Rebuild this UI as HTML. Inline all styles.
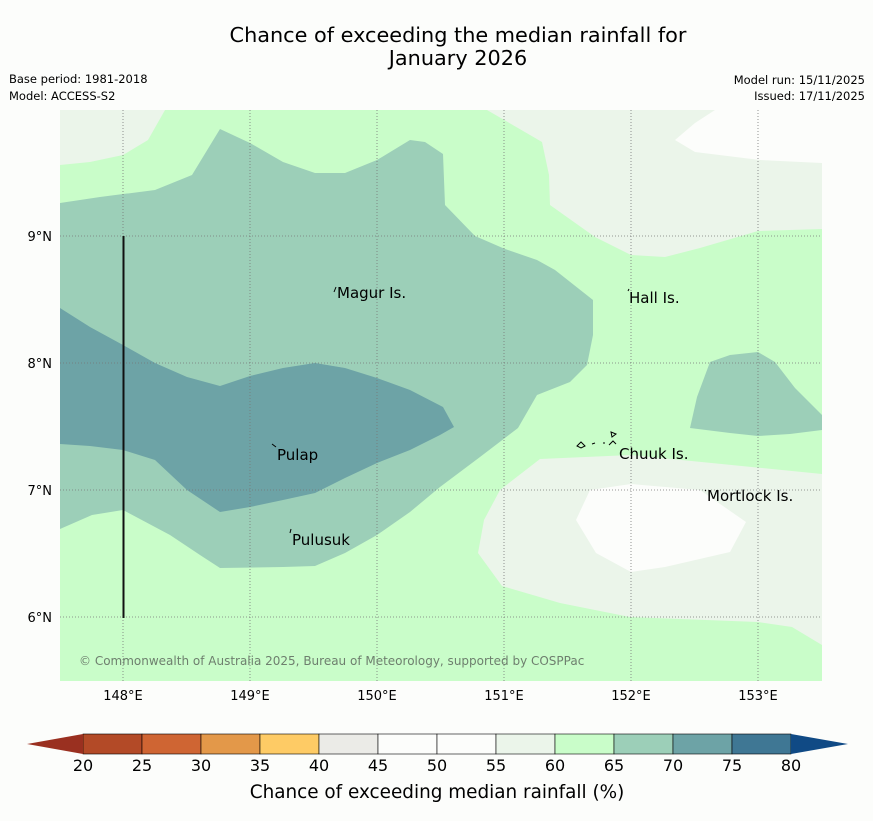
<!DOCTYPE html>
<html><head><meta charset="utf-8"><style>
body{margin:0;background:#fcfdfb;}
svg text{font-family:"DejaVu Sans","Liberation Sans",sans-serif;}
</style></head><body>
<svg width="873" height="816" viewBox="0 0 873 816" xmlns="http://www.w3.org/2000/svg">
<rect width="873" height="816" fill="#fcfdfb"/>
<text x="458" y="42" font-size="20.8" text-anchor="middle" fill="#000">Chance of exceeding the median rainfall for</text>
<text x="458" y="65" font-size="20.8" text-anchor="middle" fill="#000">January 2026</text>
<text x="9" y="83" font-size="11.5">Base period: 1981-2018</text>
<text x="9" y="100" font-size="11.5">Model: ACCESS-S2</text>
<text x="865" y="84" font-size="11.5" text-anchor="end">Model run: 15/11/2025</text>
<text x="865" y="100" font-size="11.5" text-anchor="end">Issued: 17/11/2025</text>
<defs><clipPath id="mc"><rect x="60" y="110" width="762" height="571"/></clipPath></defs>
<g clip-path="url(#mc)">
<rect x="60" y="110" width="762" height="571" fill="#c9fdc9"/>
<polygon fill="#ebf5ea" points="60,110 165,110 148,140 123,155 90,162 60,165"/>
<polygon fill="#ebf5ea" points="487,110 822,110 822,229 758,231 700,248 665,257 631,255 595,237 550,205 549,175 542,142"/>
<polygon fill="#fcfdfb" points="715,110 822,110 822,163 760,160 695,152 675,140 695,123"/>
<polygon fill="#ebf5ea" points="822,474 822,645 792,627 758,622 630,617 560,603 502,586 478,553 484,520 500,490 540,459 631,455"/>
<polygon fill="#fcfdfb" points="590,490 631,484 700,490 746,522 730,552 665,567 631,572 596,553 576,520"/>
<polygon fill="#9ccfb8" points="60,203 100,197 155,190 192,175 220,129 250,143 283,162 315,173 345,173 377,160 410,140 425,142 443,154 445,205 475,236 505,249 537,260 555,270 593,300 593,335 587,365 570,382 537,395 518,428 480,457 440,487 410,512 377,535 345,553 315,566 283,567 220,568 200,555 170,535 123,510 92,515 60,529"/>
<polygon fill="#6da3a6" points="60,308 90,327 123,345 155,363 187,377 220,386 250,376 283,368 315,363 345,368 377,378 410,390 443,407 454,427 440,435 410,450 377,463 345,478 315,493 283,500 250,507 220,512 187,490 155,460 123,450 90,446 60,444"/>
<polygon fill="#9ccfb8" points="710,362 730,355 758,352 775,362 795,388 822,415 822,430 790,434 758,436 730,433 690,428 697,397"/>
<g stroke="#777" stroke-width="0.8" stroke-dasharray="1,2">
<line x1="123" y1="110" x2="123" y2="681"/><line x1="250" y1="110" x2="250" y2="681"/><line x1="377" y1="110" x2="377" y2="681"/><line x1="504" y1="110" x2="504" y2="681"/><line x1="631" y1="110" x2="631" y2="681"/><line x1="758" y1="110" x2="758" y2="681"/>
<line x1="60" y1="236" x2="822" y2="236"/><line x1="60" y1="363" x2="822" y2="363"/><line x1="60" y1="490" x2="822" y2="490"/><line x1="60" y1="617" x2="822" y2="617"/>
</g>
<line x1="123.5" y1="236" x2="123.5" y2="618" stroke="#111" stroke-width="2"/>
<g font-size="15" fill="#000">
<text x="337" y="298">Magur Is.</text>
<text x="629" y="303">Hall Is.</text>
<text x="619" y="459">Chuuk Is.</text>
<text x="707" y="501">Mortlock Is.</text>
<text x="277" y="460">Pulap</text>
<text x="292" y="545">Pulusuk</text>
</g>
<g fill="none" stroke="#000" stroke-width="1">
<path d="M334,292 l2,-5"/><path d="M628,291 l1,-2"/><path d="M272,444 l4,3"/><path d="M290,533 l1,-4"/>
<path d="M577,446 l4,-4 l4,4 l-4,2z"/><path d="M592,444 l3,-1"/><path d="M603,443 l2,0"/><path d="M611,432 l5,2 l-4,3z"/><path d="M609,445 l4,-4 l3,3"/><path d="M705,490 l1,1"/>
</g>
<text x="79" y="665" font-size="12" fill="#6e7f6e">© Commonwealth of Australia 2025, Bureau of Meteorology, supported by COSPPac</text>
</g>
<g font-size="13" fill="#000">
<text x="52" y="241" text-anchor="end">9°N</text><text x="52" y="368" text-anchor="end">8°N</text><text x="52" y="495" text-anchor="end">7°N</text><text x="52" y="622" text-anchor="end">6°N</text>
</g>
<g font-size="13" fill="#000" text-anchor="middle">
<text x="123" y="700">148°E</text><text x="250" y="700">149°E</text><text x="377" y="700">150°E</text><text x="504" y="700">151°E</text><text x="631" y="700">152°E</text><text x="758" y="700">153°E</text>
</g>
<g id="cbar"></g>
<text x="437" y="798" font-size="18.4" text-anchor="middle">Chance of exceeding median rainfall (%)</text>
</svg>
<script>
const levels=[20,25,30,35,40,45,50,55,60,65,70,75,80];
const colors=["#b34a27","#cf6533","#e39849","#fecb65","#ebebe7","#fcfdfb","#fcfdfb","#ebf5ea","#c9fdc9","#9ccfb8","#6da3a6","#3f7794"];
const g=document.getElementById('cbar');
const NS="http://www.w3.org/2000/svg";
const x0=83,x1=791,y0=734,h=20;
const sx=v=>x0+(v-levels[0])/(levels[levels.length-1]-levels[0])*(x1-x0);
for(let i=0;i<colors.length;i++){
 const r=document.createElementNS(NS,'rect');
 r.setAttribute('x',sx(levels[i]));r.setAttribute('y',y0);
 r.setAttribute('width',sx(levels[i+1])-sx(levels[i]));r.setAttribute('height',h);
 r.setAttribute('fill',colors[i]);r.setAttribute('stroke','#000');r.setAttribute('stroke-width','0.6');
 
 
 g.appendChild(r);
}
const lt=document.createElementNS(NS,'polygon');
lt.setAttribute('points',`${x0},${y0} ${x0},${y0+h} 27,${y0+h/2}`);lt.setAttribute('fill','#9a3020');


g.appendChild(lt);
const rt=document.createElementNS(NS,'polygon');
rt.setAttribute('points',`${x1},${y0} ${x1},${y0+h} 848,${y0+h/2}`);rt.setAttribute('fill','#104a85');


g.appendChild(rt);
levels.forEach(v=>{
 const t=document.createElementNS(NS,'text');
 t.setAttribute('x',sx(v));t.setAttribute('y',771);t.setAttribute('font-size','16');t.setAttribute('text-anchor','middle');
 t.textContent=v;
 
 
 g.appendChild(t);
});
</script>
</body></html>
